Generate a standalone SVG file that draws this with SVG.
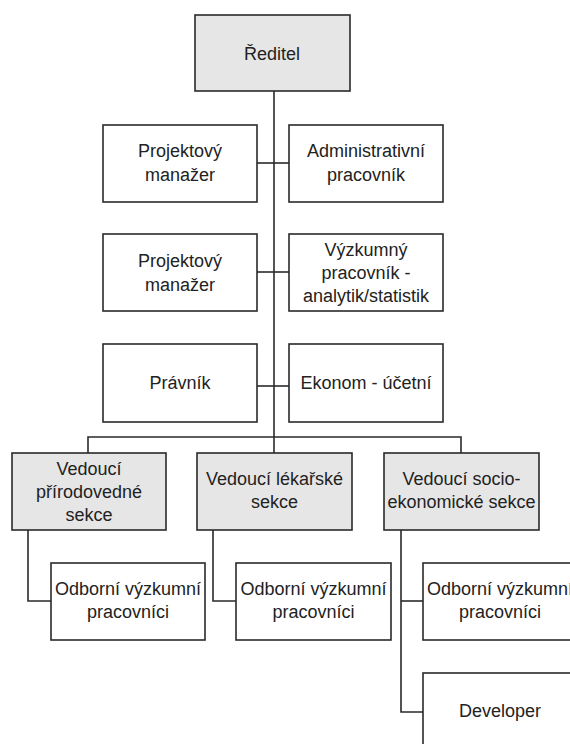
<svg xmlns="http://www.w3.org/2000/svg" width="570" height="744" viewBox="0 0 570 744">
<style>
.box{fill:#ffffff;stroke:#2a2a2a;stroke-width:1.6}
.gray{fill:#e6e6e6}
.t{font-family:"Liberation Sans",Arial,sans-serif;font-size:18px;fill:#222;text-anchor:middle}
.c{fill:none;stroke:#2a2a2a;stroke-width:1.6}
</style>
<rect width="570" height="744" fill="#ffffff"/>
<g id="connectors">
<path class="c" d="M274,91 V437"/>
<path class="c" d="M257,163 H289"/>
<path class="c" d="M257,272 H289"/>
<path class="c" d="M257,386 H289"/>
<path class="c" d="M88,453 V437 H461 V453"/>
<path class="c" d="M274,437 V453"/>
<path class="c" d="M28,530 V601 H51"/>
<path class="c" d="M213,530 V601 H236"/>
<path class="c" d="M401,530 V712 H423"/>
<path class="c" d="M401,601 H423"/>
</g>
<g id="reditel">
<rect class="box gray" x="195" y="15" width="155" height="76"/>
<text class="t" x="272" y="60">Ředitel</text>
</g>
<g id="projektovy1">
<rect class="box" x="103" y="125" width="154" height="77"/>
<text class="t" x="180" y="157">Projektový</text>
<text class="t" x="180" y="181">manažer</text>
</g>
<g id="administrativni">
<rect class="box" x="289" y="125" width="154" height="77"/>
<text class="t" x="366" y="157">Administrativní</text>
<text class="t" x="366" y="181">pracovník</text>
</g>
<g id="projektovy2">
<rect class="box" x="103" y="234" width="154" height="77"/>
<text class="t" x="180" y="267">Projektový</text>
<text class="t" x="180" y="291">manažer</text>
</g>
<g id="vyzkumny">
<rect class="box" x="289" y="234" width="154" height="77"/>
<text class="t" x="366" y="256">Výzkumný</text>
<text class="t" x="366" y="279">pracovník -</text>
<text class="t" x="366" y="302">analytik/statistik</text>
</g>
<g id="pravnik">
<rect class="box" x="103" y="344" width="154" height="78"/>
<text class="t" x="180" y="389">Právník</text>
</g>
<g id="ekonom">
<rect class="box" x="289" y="344" width="154" height="78"/>
<text class="t" x="366" y="389">Ekonom - účetní</text>
</g>
<g id="vedouci-prirodovedne">
<rect class="box gray" x="12" y="453" width="154" height="77"/>
<text class="t" x="89" y="475">Vedoucí</text>
<text class="t" x="89" y="498">přírodovedné</text>
<text class="t" x="89" y="521">sekce</text>
</g>
<g id="vedouci-lekarske">
<rect class="box gray" x="197" y="453" width="155" height="77"/>
<text class="t" x="274.5" y="485">Vedoucí lékařské</text>
<text class="t" x="274.5" y="508">sekce</text>
</g>
<g id="vedouci-socio">
<rect class="box gray" x="384" y="453" width="155" height="77"/>
<text class="t" x="461.5" y="485">Vedoucí socio-</text>
<text class="t" x="461.5" y="508">ekonomické sekce</text>
</g>
<g id="odborni1">
<rect class="box" x="51" y="563" width="154" height="77"/>
<text class="t" x="128" y="595">Odborní výzkumní</text>
<text class="t" x="128" y="618">pracovníci</text>
</g>
<g id="odborni2">
<rect class="box" x="236" y="563" width="155" height="77"/>
<text class="t" x="313.5" y="595">Odborní výzkumní</text>
<text class="t" x="313.5" y="618">pracovníci</text>
</g>
<g id="odborni3">
<rect class="box" x="423" y="563" width="154" height="77"/>
<text class="t" x="500" y="595">Odborní výzkumní</text>
<text class="t" x="500" y="618">pracovníci</text>
</g>
<g id="developer">
<rect class="box" x="423" y="673" width="154" height="80"/>
<text class="t" x="500" y="717">Developer</text>
</g>
</svg>
